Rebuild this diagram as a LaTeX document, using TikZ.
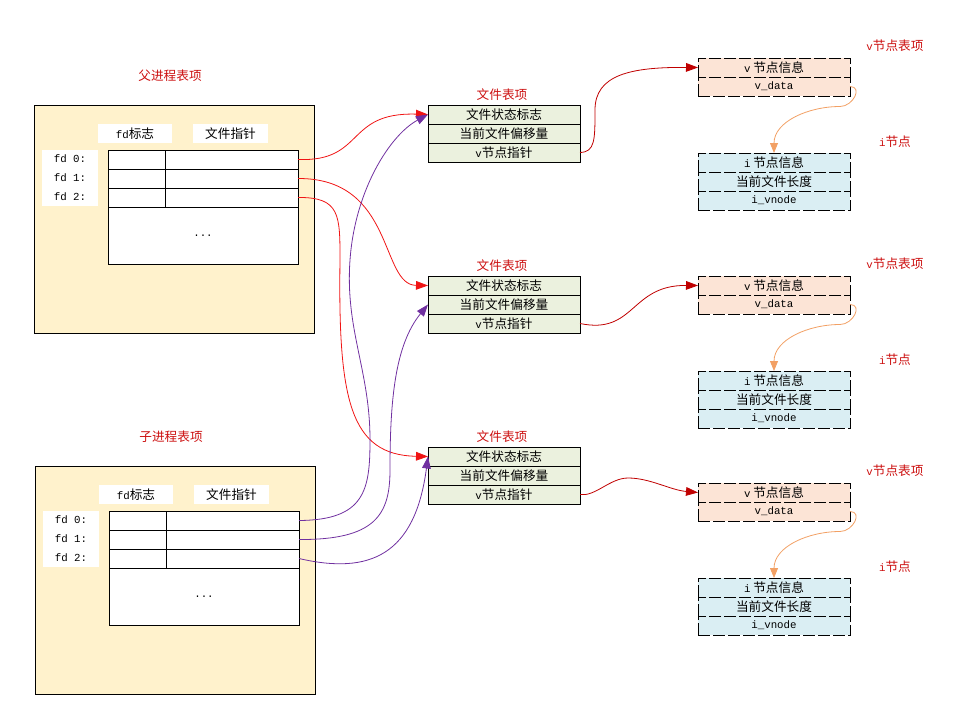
\documentclass[tikz,border=0pt]{standalone}
\usepackage{fontspec}
\setmainfont{Noto Sans CJK SC}
\setmonofont{Liberation Mono}[Scale=0.85]
\usepackage{tikz}
\usetikzlibrary{arrows.meta,positioning,calc}
\definecolor{procFill}{RGB}{255,242,204}
\definecolor{fileFill}{RGB}{235,241,222}
\definecolor{vFill}{RGB}{252,228,214}
\definecolor{iFill}{RGB}{218,238,243}
\definecolor{labelRed}{RGB}{204,16,16}
\definecolor{fdRed}{RGB}{240,20,20}
\definecolor{vptrRed}{RGB}{192,0,0}
\definecolor{childPurple}{RGB}{112,48,160}
\definecolor{inodeOrange}{RGB}{242,160,100}

\begin{document}
\begin{tikzpicture}[
    x=0.75pt, y=-0.75pt,
    line width=0.6pt,
    font=\fontsize{9.5}{11}\selectfont,
    procbox/.style={rectangle, draw, fill=procFill, minimum width=210pt, minimum height=171pt, outer sep=0pt},
    tagbox/.style={rectangle, fill=white, minimum height=14.25pt, inner sep=0pt},
    cell/.style={rectangle, draw, fill=white, minimum height=14.25pt, inner sep=0pt, outer sep=0pt},
    frow/.style={rectangle, draw, fill=fileFill, minimum width=114pt, minimum height=14.25pt, inner sep=0pt, outer sep=0pt},
    vrow/.style={frow, fill=vFill, dash pattern=on 9pt off 2.25pt},
    irow/.style={frow, fill=iFill, dash pattern=on 9pt off 2.25pt},
    redlabel/.style={text=labelRed},
    fdarrow/.style={-{Triangle[length=9pt,width=6.5pt]}, color=fdRed},
    childarrow/.style={-{Triangle[length=9pt,width=6.5pt]}, color=childPurple},
    vptrarrow/.style={-{Triangle[length=9pt,width=6.5pt]}, color=vptrRed},
    iarrow/.style={-{Triangle[length=7.5pt,width=6pt]}, color=inodeOrange}
]
    \useasboundingbox (0,0) rectangle (964,703);

    % Process tables
    \foreach \p/\dx/\dy/\ttl in {parent/0/0/父进程表项, child/1/361/子进程表项} {
        \begin{scope}[shift={(\dx,\dy)}]
            \node[redlabel] (\p-title) at (170,76) {\ttl};
            \node[procbox] (\p) at (174,219) {};
            \node[tagbox, minimum width=55.5pt] (\p-flag) at (135,133.5) {\texttt{fd}标志};
            \node[tagbox, minimum width=56.25pt] (\p-ptr) at (230.5,133.5) {文件指针};
            \node[tagbox, minimum width=42pt, minimum height=42pt, align=center,
                  font=\fontsize{9.5}{14.25}\selectfont] (\p-fds) at (70,178)
                {\texttt{fd 0:}\\\texttt{fd 1:}\\\texttt{fd 2:}};
            \foreach \r/\y in {0/159.5, 1/178.5, 2/197.5} {
                \node[cell, minimum width=42.75pt] (\p-l\r) at (136.5,\y) {};
                \node[cell, minimum width=99.75pt] (\p-r\r) at (231.5,\y) {};
            }
            \node[cell, minimum width=142.5pt, minimum height=42.75pt] (\p-more) at (203,235.5) {\texttt{...}};
        \end{scope}
    }

    % File tables
    \foreach \n/\y in {1/114.5, 2/285.5, 3/456.5} {
        \node[redlabel] (ftab\n-title) at (502,\y-19.5) {文件表项};
        \node[frow] (ftab\n-a) at (504,\y) {文件状态标志};
        \node[frow, below=0pt of ftab\n-a] (ftab\n-b) {当前文件偏移量};
        \node[frow, below=0pt of ftab\n-b] (ftab\n-c) {\texttt{v}节点指针};
    }

    % v-node and i-node tables
    \foreach \n/\vy/\iy in {1/67.5/162.5, 2/285.5/380.5, 3/492.5/587.5} {
        \node[redlabel] (vnode\n-title) at (895,\vy-21.5) {\texttt{v}节点表项};
        \node[vrow] (vnode\n-a) at (774,\vy) {\texttt{v} 节点信息};
        \node[vrow, below=0pt of vnode\n-a] (vnode\n-b) {\texttt{v\_data}};
        \node[redlabel] (inode\n-title) at (895,\iy-20.5) {\texttt{i}节点};
        \node[irow] (inode\n-a) at (774,\iy) {\texttt{i} 节点信息};
        \node[irow, below=0pt of inode\n-a] (inode\n-b) {当前文件长度};
        \node[irow, below=0pt of inode\n-b] (inode\n-c) {\texttt{i\_vnode}};
        \draw[iarrow] (vnode\n-b.east) to[out=0, in=0, looseness=1.5] ++(-10,20)
            to[out=180, in=90] (inode\n-a.north);
    }

    % Parent fd arrows
    \draw[fdarrow] (parent-r0.east) .. controls (365,162) and (345,112) .. (ftab1-a.west);
    \draw[fdarrow] (parent-r1.east) .. controls (395,178) and (380,285) .. (ftab2-a.west);
    \draw[fdarrow] (parent-r2.east) .. controls (340,197) and (340,215) .. (340,260)
        .. controls (338,400) and (350,455) .. (ftab3-a.west);

    % Child fd arrows
    \draw[childarrow] (child-r0.east) .. controls (365,520) and (370,490) .. (370,440)
        .. controls (370,370) and (345,330) .. (350,260)
        .. controls (355,190) and (390,135) .. (ftab1-a.west);
    \draw[childarrow] (child-r1.east) .. controls (375,540) and (390,515) .. (390,470)
        .. controls (390,400) and (395,345) .. (ftab2-b.west);
    \draw[childarrow] (child-r2.east) .. controls (370,575) and (415,555) .. (ftab3-a.west);

    % v-node pointers
    \draw[vptrarrow] (ftab1-c.east) .. controls (595,152) and (595,140) .. (595,110)
        .. controls (595,75) and (630,67) .. (vnode1-a.west);
    \draw[vptrarrow] (ftab2-c.east) .. controls (635,335) and (630,285) .. (vnode2-a.west);
    \draw[vptrarrow] (ftab3-c.east) .. controls (595,497) and (610,478) .. (628,478)
        .. controls (650,478) and (670,490) .. (vnode3-a.west);
\end{tikzpicture}
\end{document}
